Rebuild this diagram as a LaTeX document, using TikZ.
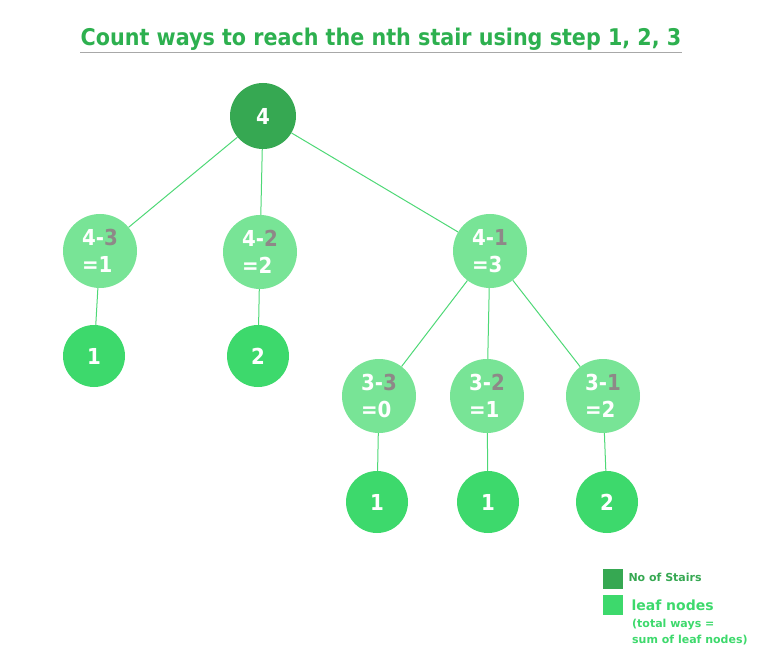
\documentclass[tikz,border=0pt]{standalone}
\usepackage{fontspec}
\setmainfont{DejaVu Sans}
\newfontfamily\condfont{DejaVu Sans Condensed}
\definecolor{rootc}{HTML}{36A852}
\definecolor{midc}{HTML}{78E496}
\definecolor{leafc}{HTML}{3DD96C}
\definecolor{edgec}{HTML}{4ED876}
\definecolor{greyd}{HTML}{8E8888}
\definecolor{titlec}{HTML}{2DB04F}
\definecolor{ulc}{HTML}{A8A8A8}
\begin{document}
\begin{tikzpicture}[x=1pt,y=-1pt,
  base/.style={circle,inner sep=0pt,text=white,font=\condfont\bfseries\fontsize{22}{27}\selectfont},
  rootnode/.style={base,fill=rootc,minimum size=66pt},
  midnode/.style={base,fill=midc,minimum size=74pt,align=left},
  leafnode/.style={base,fill=leafc,minimum size=62pt},
  edge/.style={draw=edgec,line width=1pt}]
\useasboundingbox (0,0) rectangle (764,666);
\node[text=titlec,font=\condfont\bfseries\fontsize{23}{24}\selectfont,anchor=base] (title) at (381,46) {Count ways to reach the nth stair using step 1, 2, 3};
\coordinate (ulL) at (80,52);
\coordinate (ulR) at (682,52);
\draw[ulc,line width=0.8pt] (ulL) -- (ulR);

\node[rootnode] (r) at (263,116) {4};
\node[midnode] (a) at (100,251) {4-\textcolor{greyd}{3}\\=1};
\node[midnode] (b) at (260,252) {4-\textcolor{greyd}{2}\\=2};
\node[midnode] (c) at (490,251) {4-\textcolor{greyd}{1}\\=3};
\node[leafnode] (la) at (94,356) {1};
\node[leafnode] (lb) at (258,356) {2};
\node[midnode] (d) at (379,396) {3-\textcolor{greyd}{3}\\=0};
\node[midnode] (e) at (487,396) {3-\textcolor{greyd}{2}\\=1};
\node[midnode] (f) at (603,396) {3-\textcolor{greyd}{1}\\=2};
\node[leafnode] (ld) at (377,502) {1};
\node[leafnode] (le) at (488,502) {1};
\node[leafnode] (lf) at (607,502) {2};

\draw[edge] (r) -- (a);
\draw[edge] (r) -- (b);
\draw[edge] (r) -- (c);
\draw[edge] (a) -- (la);
\draw[edge] (b) -- (lb);
\draw[edge] (c) -- (d);
\draw[edge] (c) -- (e);
\draw[edge] (c) -- (f);
\draw[edge] (d) -- (ld);
\draw[edge] (e) -- (le);
\draw[edge] (f) -- (lf);

\node[fill=rootc,minimum size=20pt,inner sep=0pt] (k1) at (612.5,578.5) {};
\node[anchor=west,text=rootc,font=\bfseries\fontsize{11}{12}\selectfont] (k1t) at (625,577) {No of Stairs};
\node[fill=leafc,minimum size=20pt,inner sep=0pt] (k2) at (613,604.5) {};
\node[anchor=west,text=leafc,font=\bfseries\fontsize{14}{16}\selectfont] (k2t) at (628,605) {leaf nodes};
\node[anchor=north west,text=leafc,font=\bfseries\fontsize{11}{16}\selectfont,align=left,inner sep=0pt] (k2n) at (632,619) {(total ways =\\sum of leaf nodes)};
\end{tikzpicture}
\end{document}
